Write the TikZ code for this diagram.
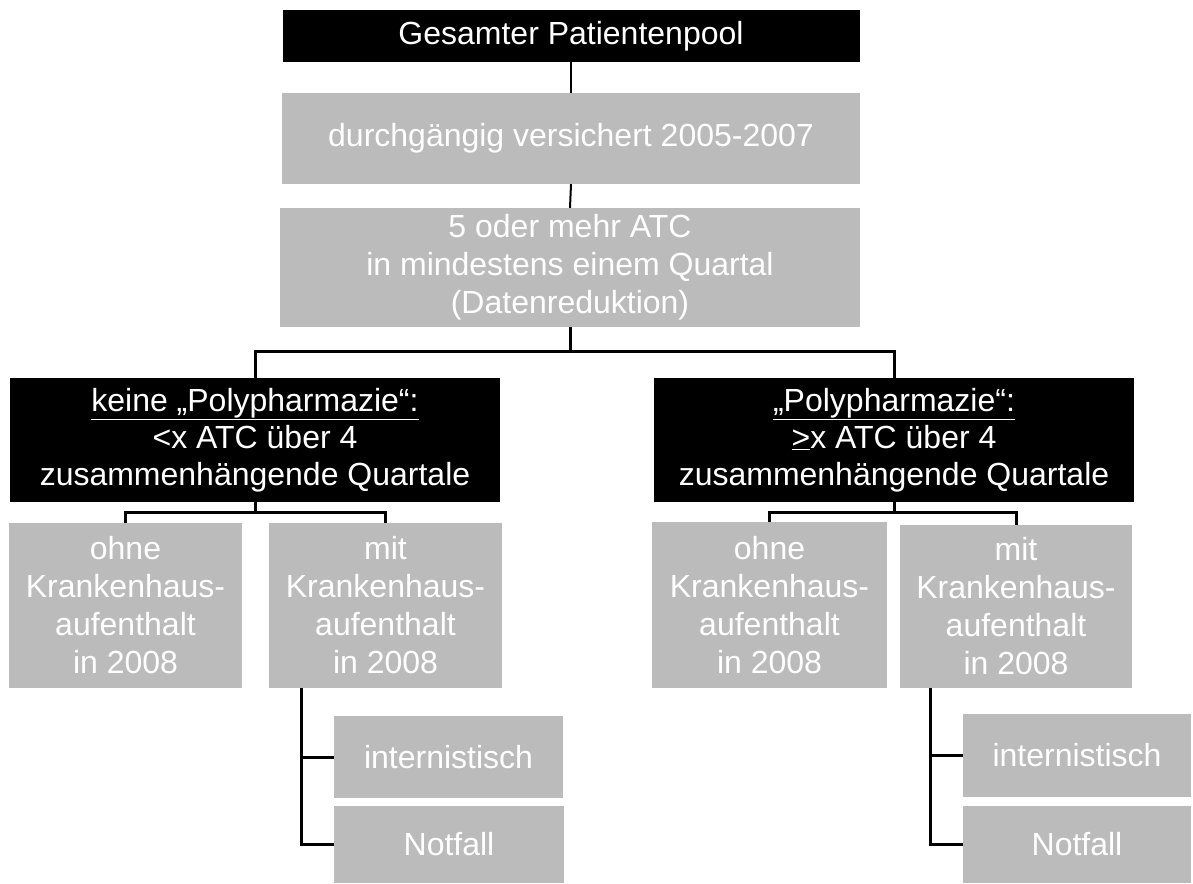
\documentclass[tikz,border=0pt]{standalone}
\usepackage{fontspec}
\setmainfont{Liberation Sans}
\definecolor{boxgray}{RGB}{187,187,187}
\begin{document}
\begin{tikzpicture}[x=1pt,y=-1pt,
  blackbox/.style={fill=black,text=white,inner sep=0pt,align=center,font=\fontsize{32}{37}\selectfont},
  graybox/.style={fill=boxgray,text=white,inner sep=0pt,align=center,font=\fontsize{32}{38}\selectfont},
  thinline/.style={line width=2pt,black},
  link/.style={line width=3pt,black}]
\useasboundingbox (0,0) rectangle (1193,883);
\node[blackbox,minimum width=577pt,minimum height=52pt] (top) at (571,36) {Gesamter Patientenpool};
\node[graybox,minimum width=578pt,minimum height=91pt] (dur) at (571,138.5) {durchgängig versichert 2005-2007};
\node[graybox,minimum width=580pt,minimum height=119pt] (atc) at (570,267.5) {5 oder mehr ATC\\in mindestens einem Quartal\\(Datenreduktion)};
\node[blackbox,minimum width=490pt,minimum height=124pt] (kp) at (255,440) {\underline{keine „Polypharmazie“:}\\<x ATC über 4\\zusammenhängende Quartale};
\node[blackbox,minimum width=480pt,minimum height=124pt] (pp) at (894,440) {\underline{„Polypharmazie“:}\\\underline{>}x ATC über 4\\zusammenhängende Quartale};
\node[graybox,minimum width=233pt,minimum height=165pt] (ohneL) at (125.5,605.5) {ohne\\Krankenhaus-\\aufenthalt\\in 2008};
\node[graybox,minimum width=233pt,minimum height=165pt] (mitL) at (385.5,605.5) {mit\\Krankenhaus-\\aufenthalt\\in 2008};
\node[graybox,minimum width=235pt,minimum height=166pt] (ohneR) at (769.5,605) {ohne\\Krankenhaus-\\aufenthalt\\in 2008};
\node[graybox,minimum width=232pt,minimum height=163pt] (mitR) at (1016,606.5) {mit\\Krankenhaus-\\aufenthalt\\in 2008};
\node[graybox,minimum width=229pt,minimum height=82pt] (intL) at (448.5,757) {internistisch};
\node[graybox,minimum width=230pt,minimum height=77pt] (notL) at (449,844.5) {Notfall};
\node[graybox,minimum width=228pt,minimum height=83pt] (intR) at (1077,755.5) {internistisch};
\node[graybox,minimum width=228pt,minimum height=77pt] (notR) at (1077,844.5) {Notfall};
\draw[thinline] (top.south) -- (dur.north);
\draw[thinline] (dur.south) -- (atc.north);
\draw[link] (atc.south) -- ++(0,24) coordinate (j1) -| (kp.north);
\draw[link] (j1) -| (pp.north);
\draw[link] (kp.south) -- ++(0,10) coordinate (j2) -| (ohneL.north);
\draw[link] (j2) -| (mitL.north);
\draw[link] (pp.south) -- ++(0,10) coordinate (j3) -| (ohneR.north);
\draw[link] (j3) -| (mitR.north);
\draw[link] ([xshift=33pt]mitL.south west) |- (intL.west);
\draw[link] ([xshift=33pt]mitL.south west) |- (notL.west);
\draw[link] ([xshift=31pt]mitR.south west) |- (intR.west);
\draw[link] ([xshift=31pt]mitR.south west) |- (notR.west);
\end{tikzpicture}
\end{document}
